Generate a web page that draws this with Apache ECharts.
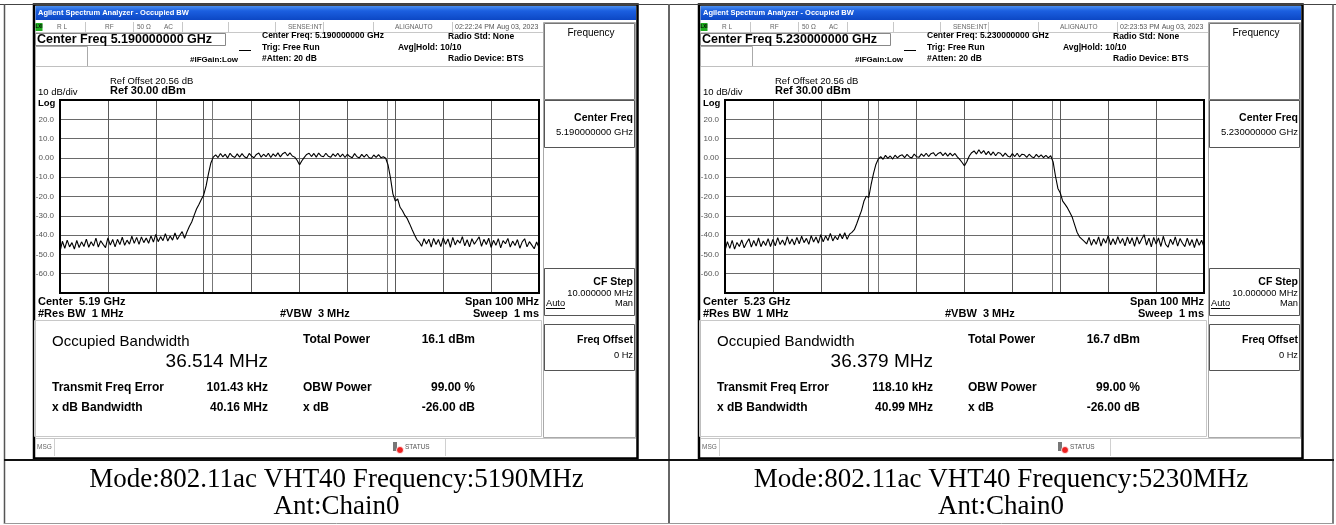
<!DOCTYPE html>
<html><head><meta charset="utf-8">
<script src="https://cdn.jsdelivr.net/npm/echarts@6/dist/echarts.min.js"></script>
<style>html,body{margin:0;padding:0;background:#fff;}#c{width:1336px;height:525px;}</style>
</head><body><div id="c"></div>
<script>
// ---------- data ----------
const centerFreqMHz = [5190, 5230];
const spanMHz = 100;
const refLevelDBm = 30;
const dbPerDiv = 10;
const yTickValues = [-70, -60, -50, -40, -30, -20, -10, 0, 10, 20, 30];
const obwMHz = [36.514, 36.379];
const totalPowerDBm = [16.1, 16.7];
const freqErrorKHz = [101.43, 118.10];
const xdbBandwidthMHz = [40.16, 40.99];
const timestamps = ['02:22:24 PM Aug 03, 2023', '02:23:53 PM Aug 03, 2023'];
const captionMode = 'Mode:802.11ac VHT40 Frequency:';
const captionAnt = 'Ant:Chain0';

// trace at 5190 MHz, 201 sweep points (5140 .. 5240 MHz)
const spectrumA = [
-48.5,-43.2,-46.8,-42.6,-46.1,-43.9,-47.2,-42.8,-46.4,-43.5,
-45.9,-42.1,-46.3,-43.4,-45.7,-41.6,-46.2,-42.9,-44.8,-46.5,
-41.4,-45.2,-42.3,-46.1,-42.2,-44.9,-41.1,-45.3,-42.6,-44.7,
-40.6,-44.3,-41.2,-44.8,-40.9,-43.9,-41.5,-44.2,-40.4,-43.6,
-39.6,-43.4,-40.8,-42.9,-39.2,-43.1,-40.5,-42.6,-38.9,-42.3,
-40.1,-38.2,-41.6,-38.4,
-35.5,-33.2,-29.8,-26.5,-24.1,-21.6,-19.2,-14.5,-8.2,-2.6,0.4,
1.6,0.2,2.3,0.5,1.9,-0.1,2.4,0.8,0.2,2.1,
0.4,2.2,0.6,-0.1,2.3,0.9,0.1,1.8,2.5,0.4,
1.9,0.6,2.4,0.2,2.1,0.8,2.6,0.5,2.2,2.9,
1.1,2.6,1.0,0.4,-1.2,-3.6,-1.5,0.3,1.8,2.4,
0.7,2.3,0.4,2.5,1.0,0.6,2.4,0.9,0.3,2.1,
0.8,2.4,0.5,2.0,0.2,1.9,0.7,0.1,2.2,0.6,
0.0,1.8,0.4,1.9,0.2,-0.3,1.5,0.3,1.7,0.1,
0.6,-0.2,
-3.8,-10.5,-18.6,-22.4,-21.3,-25.6,-27.4,-29.8,-31.5,-34.2,-37.1,-39.8,-42.3,-43.6,
-45.8,-41.9,-44.6,-42.1,-46.2,-41.7,-44.9,-42.3,-46.0,-41.5,
-44.8,-42.0,-46.3,-41.2,-45.1,-42.6,-44.2,-40.8,-45.6,-42.4,
-46.1,-41.9,-44.7,-42.8,-40.9,-45.8,-42.2,-44.9,-41.6,-46.4,
-42.7,-45.3,-41.8,-46.6,-42.9,-44.5,-41.7,-46.2,-43.1,-45.4,
-42.3,-46.8,-43.5,-41.9,-46.1,-43.4,-45.2,-47.1,-43.6,-46.5
];
// trace at 5230 MHz, 201 sweep points (5180 .. 5280 MHz)
const spectrumB = [
-48.1,-43.4,-46.9,-42.7,-47.3,-43.8,-45.9,-42.5,-46.6,-44.0,
-41.9,-46.2,-42.8,-45.7,-41.5,-46.0,-43.1,-45.4,-41.8,-45.9,
-42.2,-45.6,-41.3,-44.9,-42.5,-45.3,-40.8,-44.6,-42.0,-45.1,
-41.2,-44.5,-40.6,-43.9,-41.7,-44.8,-40.3,-43.6,-41.0,-44.2,
-39.8,-43.5,-40.4,-42.8,-39.1,-43.0,-40.6,-42.4,-39.3,-41.9,
-38.8,-42.2,-39.5,-38.6,
-37.2,-34.1,-30.6,-27.3,-22.5,-19.8,-20.6,-13.9,-8.1,-3.4,-0.6,
0.6,-0.7,1.3,-0.2,1.0,-0.6,1.4,0.0,1.1,1.6,
0.1,1.8,0.5,0.0,2.0,0.6,0.3,2.1,0.8,2.4,
0.7,2.2,2.7,1.0,2.3,2.9,1.2,2.6,0.9,2.5,
1.0,2.3,0.5,-0.8,-2.4,-4.1,-1.9,1.0,2.7,3.6,
2.0,4.2,2.3,3.8,1.7,3.4,1.4,3.1,1.1,2.8,
2.4,0.8,2.5,1.0,0.4,2.2,0.7,2.4,0.5,1.9,
1.6,0.3,1.9,0.6,0.1,1.8,0.4,1.6,0.2,1.3,
0.0,1.1,
-2.1,-9.5,-15.8,-18.2,-22.4,-24.1,-25.9,-28.3,-30.8,-34.7,-38.5,-40.9,-42.1,-43.3,
-44.6,-41.2,-45.3,-42.1,-44.8,-40.9,-45.7,-41.8,-44.2,-40.3,
-45.1,-41.9,-44.9,-40.8,-44.3,-41.7,-45.6,-41.0,-44.5,-41.4,
-45.8,-40.9,-44.6,-42.0,-39.8,-45.2,-41.6,-46.1,-41.2,-44.7,
-41.5,-45.9,-40.6,-44.8,-46.3,-42.1,-44.9,-40.9,-45.7,-41.8,
-44.2,-46.0,-41.6,-45.4,-42.3,-46.5,-41.9,-45.3,-42.6,-46.2
];
const traces = [spectrumA, spectrumB];

// ---------- helpers ----------
const FF = '"Liberation Sans", Arial, sans-serif';
const FS = '"Liberation Serif", "Times New Roman", serif';
function T(x, y, text, size, o) {
  o = o || {};
  const al = o.align || 'left';
  return { type: 'text', x: x, y: y, silent: true, z: 50,
    style: { text: text, fill: o.fill || '#000',
      font: (o.bold ? 'bold ' : '') + size + 'px ' + (o.ff || FF),
      textAlign: al, align: al, textVerticalAlign: 'middle', verticalAlign: 'middle' } };
}
function L(x1, y1, x2, y2, stroke, w) {
  return { type: 'line', silent: true, z: 40, shape: { x1: x1, y1: y1, x2: x2, y2: y2 },
    style: { stroke: stroke, lineWidth: w || 1 } };
}
function R(x, y, w, h, o) {
  return { type: 'rect', silent: true, z: o.z || 30, shape: { x: x, y: y, width: w, height: h },
    style: { fill: o.fill || 'transparent', stroke: o.stroke || null, lineWidth: o.lw || 1 } };
}

const panelOffset = [0, 665];
const plotLeft = 60, plotTop = 100, plotW = 479, plotH = 193;

function panel(k) {
  const ox = panelOffset[k];
  const X = v => v + ox;
  const c = centerFreqMHz[k];
  const cGHz = (c / 1000).toFixed(9);
  const g = [];
  // window frame
  g.push(R(X(34), 4.5, 603.5, 454, { stroke: '#000', lw: 2.5, z: 20 }));
  // title bar
  g.push({ type: 'rect', silent: true, z: 30, shape: { x: X(35.5), y: 6, width: 600.5, height: 14 },
    style: { fill: new echarts.graphic.LinearGradient(0, 0, 0, 1, [
      { offset: 0, color: '#4a8ff0' }, { offset: 0.35, color: '#1b5fe0' }, { offset: 1, color: '#0c47c4' }]) } });
  g.push(T(X(38), 13, 'Agilent Spectrum Analyzer - Occupied BW', 7.5, { bold: true, fill: '#fff' }));
  // status row
  g.push(R(X(35.5), 23, 7, 8, { fill: '#1fae1f', z: 35 }));
  g.push(T(X(39), 27, 'LXI', 4.5, { bold: true, align: 'center' }));
  [85, 133, 182, 228, 275, 323, 373, 452].forEach(x => g.push(L(X(x) + 0.5, 22, X(x) + 0.5, 32, '#c8c8c8')));
  g.push(L(X(36), 32.5, X(543), 32.5, '#c8c8c8'));
  g.push(T(X(57), 27, 'R L', 6.5, { fill: '#666' }));
  g.push(T(X(105), 27, 'RF', 6.5, { fill: '#666' }));
  g.push(T(X(137), 27, '50 Ω', 6.5, { fill: '#666' }));
  g.push(T(X(164), 27, 'AC', 6.5, { fill: '#666' }));
  g.push(T(X(288), 27, 'SENSE:INT', 6.5, { fill: '#666' }));
  g.push(T(X(395), 27, 'ALIGNAUTO', 6.5, { fill: '#666' }));
  g.push(T(X(455), 27, timestamps[k], 7, { fill: '#555' }));
  // header
  g.push(R(X(35.5), 33.5, 190, 12, { stroke: '#888' }));
  g.push(R(X(35.5), 46.5, 52, 20, { stroke: '#aaa' }));
  g.push(L(X(36), 66.5, X(543), 66.5, '#c0c0c0'));
  g.push(T(X(37), 39.5, 'Center Freq ' + cGHz + ' GHz', 12.5, { bold: true }));
  g.push(T(X(262), 36, 'Center Freq: ' + cGHz + ' GHz', 8.5, { bold: true }));
  g.push(T(X(262), 47.5, 'Trig: Free Run', 8.5, { bold: true }));
  g.push(T(X(262), 59, '#Atten: 20 dB', 8.5, { bold: true }));
  g.push(T(X(398), 47.5, 'Avg|Hold: 10/10', 8.5, { bold: true }));
  g.push(T(X(190), 60, '#IFGain:Low', 8, { bold: true }));
  g.push(L(X(239), 50.5, X(251), 50.5, '#000'));
  g.push(T(X(448), 36.5, 'Radio Std: None', 8.5, { bold: true }));
  g.push(T(X(448), 58.5, 'Radio Device: BTS', 8.5, { bold: true }));
  // reference texts
  g.push(T(X(110), 81.5, 'Ref Offset 20.56 dB', 9.5));
  g.push(T(X(38), 92, '10 dB/div', 9.5));
  g.push(T(X(110), 91, 'Ref ' + refLevelDBm.toFixed(2) + ' dBm', 11, { bold: true }));
  g.push(T(X(38), 103, 'Log', 9.5, { bold: true }));
  // plot border
  g.push(R(X(plotLeft), plotTop, plotW, plotH, { stroke: '#000', lw: 2, z: 100 }));
  // bottom annotations
  g.push(T(X(38), 301.5, 'Center  ' + (c / 1000).toFixed(2) + ' GHz', 11, { bold: true }));
  g.push(T(X(38), 314, '#Res BW  1 MHz', 11, { bold: true }));
  g.push(T(X(280), 314, '#VBW  3 MHz', 11, { bold: true }));
  g.push(T(X(539), 301.5, 'Span ' + spanMHz + ' MHz', 11, { bold: true, align: 'right' }));
  g.push(T(X(539), 314, 'Sweep  1 ms', 11, { bold: true, align: 'right' }));
  // result box
  g.push(R(X(34.5), 320.5, 507, 116, { stroke: '#c8c8c8' }));
  g.push(T(X(52), 342, 'Occupied Bandwidth', 15));
  g.push(T(X(268), 362, obwMHz[k].toFixed(3) + ' MHz', 19, { align: 'right' }));
  g.push(T(X(303), 340, 'Total Power', 12, { bold: true }));
  g.push(T(X(475), 340, totalPowerDBm[k].toFixed(1) + ' dBm', 12, { bold: true, align: 'right' }));
  g.push(T(X(52), 387.5, 'Transmit Freq Error', 12, { bold: true }));
  g.push(T(X(268), 387.5, freqErrorKHz[k].toFixed(2) + ' kHz', 12, { bold: true, align: 'right' }));
  g.push(T(X(303), 387.5, 'OBW Power', 12, { bold: true }));
  g.push(T(X(475), 387.5, '99.00 %', 12, { bold: true, align: 'right' }));
  g.push(T(X(52), 408, 'x dB Bandwidth', 12, { bold: true }));
  g.push(T(X(268), 408, xdbBandwidthMHz[k].toFixed(2) + ' MHz', 12, { bold: true, align: 'right' }));
  g.push(T(X(303), 408, 'x dB', 12, { bold: true }));
  g.push(T(X(475), 408, '-26.00 dB', 12, { bold: true, align: 'right' }));
  // softkey menu
  g.push(R(X(543.5), 22.5, 92, 415, { stroke: '#aaa' }));
  g.push(R(X(544.5), 23.5, 90, 76, { stroke: '#777' }));
  g.push(T(X(591), 33.5, 'Frequency', 10, { align: 'center' }));
  g.push(R(X(544.5), 100.5, 90, 47, { stroke: '#555' }));
  g.push(T(X(633), 118, 'Center Freq', 10.5, { bold: true, align: 'right' }));
  g.push(T(X(633), 132.5, cGHz + ' GHz', 9.5, { align: 'right' }));
  g.push(R(X(544.5), 268.5, 90, 47, { stroke: '#555' }));
  g.push(T(X(633), 282, 'CF Step', 10.5, { bold: true, align: 'right' }));
  g.push(T(X(633), 293, '10.000000 MHz', 9.3, { align: 'right' }));
  g.push(T(X(546), 303.5, 'Auto', 9.3));
  g.push(L(X(546), 308.5, X(565), 308.5, '#000'));
  g.push(T(X(633), 303.5, 'Man', 9.3, { align: 'right' }));
  g.push(R(X(544.5), 324.5, 90, 46, { stroke: '#555' }));
  g.push(T(X(633), 340, 'Freq Offset', 10.5, { bold: true, align: 'right' }));
  g.push(T(X(633), 355.5, '0 Hz', 9.3, { align: 'right' }));
  // status bar
  g.push(L(X(36), 438.5, X(636), 438.5, '#c8c8c8'));
  g.push(L(X(54.5), 439, X(54.5), 456, '#d0d0d0'));
  g.push(L(X(445.5), 439, X(445.5), 456, '#d0d0d0'));
  g.push(T(X(37), 447.5, 'MSG', 6.5, { fill: '#666' }));
  g.push(R(X(393), 442, 4, 9, { fill: '#777', z: 45 }));
  g.push({ type: 'circle', silent: true, z: 46, shape: { cx: X(400), cy: 450, r: 3.5 }, style: { fill: '#e22', stroke: '#fff', lineWidth: 0.8 } });
  g.push(T(X(405), 447.5, 'STATUS', 6.5, { fill: '#555' }));
  // captions
  const cx = k === 0 ? 336.5 : 1001;
  g.push(T(cx, 480, captionMode + c + 'MHz', 27, { ff: FS, align: 'center' }));
  g.push(T(cx, 507, captionAnt, 27, { ff: FS, align: 'center' }));
  return g;
}

// table lines
const tableLines = [
  L(0, 4.5, 1336, 4.5, '#444', 1),
  L(4.5, 4, 4.5, 524, '#555', 1.5),
  L(669, 4, 669, 524, '#666', 2),
  L(1333, 4, 1333, 524, '#555', 1.5),
  L(4, 460, 1334, 460, '#111', 2),
  L(4, 523.5, 1334, 523.5, '#999', 1)
];

const chart = echarts.init(document.getElementById('c'), null, { renderer: 'canvas' });
const grids = [], xAxes = [], yAxes = [], series = [];
[0, 1].forEach(k => {
  const c = centerFreqMHz[k];
  const f0 = c - spanMHz / 2;
  const tr = traces[k];
  const step = spanMHz / (tr.length - 1);
  grids.push({ left: plotLeft + panelOffset[k], top: plotTop, width: plotW, height: plotH, show: true, backgroundColor: '#fff', borderWidth: 0 });
  xAxes.push({ type: 'value', gridIndex: k, min: f0, max: f0 + spanMHz, interval: spanMHz / 10,
    axisLine: { show: false }, axisTick: { show: false }, axisLabel: { show: false },
    splitLine: { show: true, lineStyle: { color: '#5a5a5a', width: 1 } } });
  yAxes.push({ type: 'value', gridIndex: k, min: yTickValues[0], max: yTickValues[yTickValues.length - 1], interval: dbPerDiv,
    axisLine: { show: false }, axisTick: { show: false },
    axisLabel: { show: true, showMinLabel: false, showMaxLabel: false, margin: 6, color: '#555', fontSize: 8, fontFamily: '"Liberation Sans", Arial, sans-serif',
      formatter: v => v === 0 ? '0.00' : v.toFixed(1) },
    splitLine: { show: true, lineStyle: { color: '#6a6a6a', width: 1 } } });
  const fc = c + freqErrorKHz[k] / 1000;
  series.push({ type: 'line', xAxisIndex: k, yAxisIndex: k, showSymbol: false, symbol: 'none',
    lineStyle: { color: '#000', width: 1.1 }, animation: false, silent: true, z: 5,
    data: tr.map((v, i) => [f0 + i * step, v]),
    markLine: { silent: true, symbol: ['none', 'none'], animation: false, label: { show: false },
      lineStyle: { color: '#777', width: 1, type: 'solid' },
      data: [{ xAxis: fc - obwMHz[k] / 2 }, { xAxis: fc + obwMHz[k] / 2 }] } });
});

chart.setOption({
  animation: false,
  backgroundColor: '#fff',
  grid: grids, xAxis: xAxes, yAxis: yAxes, series: series,
  graphic: { elements: tableLines.concat(panel(0), panel(1)) }
});
</script>
</body></html>
